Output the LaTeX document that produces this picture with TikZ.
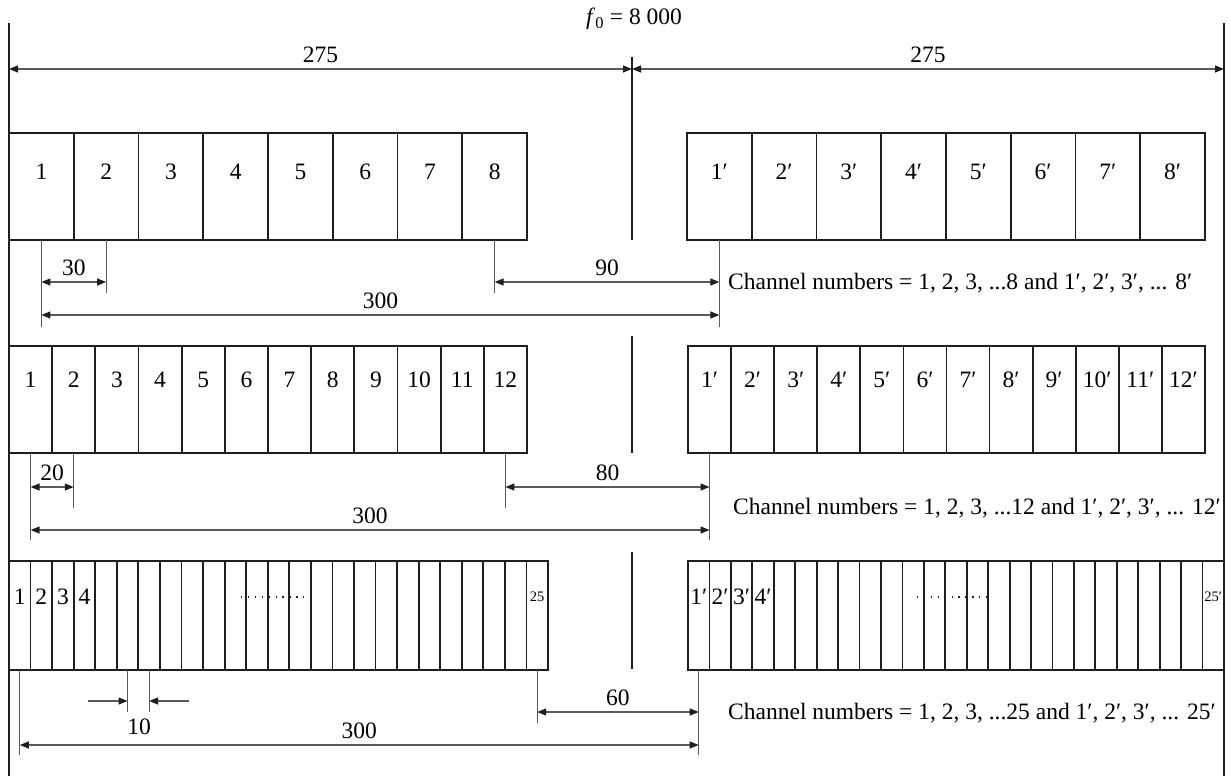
\documentclass[tikz,border=0pt]{standalone}
\usepackage{fontspec}
\setmainfont{Liberation Serif}
\usetikzlibrary{arrows.meta}
\definecolor{inkc}{RGB}{30,30,30}
\definecolor{dimc}{RGB}{90,90,90}

\begin{document}
\begin{tikzpicture}[x=1pt, y=-1pt, line cap=butt,
    font=\fontsize{23.5}{27}\selectfont,
    cell/.style={draw=inkc, line width=1.8pt, inner sep=0pt, outer sep=0pt, anchor=north west},
    lbl/.style={inner sep=0pt},
    small/.style={inner sep=0pt, font=\fontsize{14.5}{16}\selectfont},
    frameline/.style={draw=inkc, line width=1.8pt},
    extline/.style={draw=dimc, line width=1pt},
    dimline/.style={draw=dimc, line width=1.2pt,
      {Triangle[length=9pt,width=7pt,color=inkc]}-{Triangle[length=9pt,width=7pt,color=inkc]}},
    oneway/.style={draw=dimc, line width=1.2pt, -{Triangle[length=9pt,width=7pt,color=inkc]}},
    dimlbl/.style={above=6pt, inner sep=0pt},
    dotline/.style={draw=inkc, line width=1.3pt, dash pattern=on 1.3pt off 5.6pt}]
  \useasboundingbox (0,0) rectangle (1231,776);

  % outer frame lines and the centre frequency line
  \coordinate (lt) at (9,23);    \coordinate (lb) at (9,776);
  \coordinate (rt) at (1224,23); \coordinate (rb) at (1224,776);
  \draw[frameline] (lt) -- (lb);
  \draw[frameline] (rt) -- (rb);
  \coordinate (c1t) at (632,57);  \coordinate (c1b) at (632,240);
  \coordinate (c2t) at (632,336); \coordinate (c2b) at (632,453);
  \coordinate (c3t) at (632,552); \coordinate (c3b) at (632,669);
  \draw[frameline] (c1t) -- (c1b);
  \draw[frameline] (c2t) -- (c2b);
  \draw[frameline] (c3t) -- (c3b);
  \node (f0) at (634,19) {\textit{f}\textsubscript{0} = 8 000};

  % half bandwidths
  \coordinate (lv0) at (0,69);
  \draw[dimline] (lt |- lv0) -- (c1t |- lv0) node[midway, dimlbl] (w1) {275};
  \draw[dimline] (c1t |- lv0) -- (rt |- lv0) node[midway, dimlbl] (w2) {275};

  % ---- 8 channels each side
  \def\cwa{64.75}
  \foreach \i in {1,...,8}{
    \node[cell, minimum width=\cwa pt, minimum height=107pt] (oneL\i) at ({9+(\i-1)*\cwa},133) {};
    \node[lbl] (toneL\i) at ({9+(\i-0.5)*\cwa},172) {\i};
    \node[cell, minimum width=\cwa pt, minimum height=107pt] (oneR\i) at ({687+(\i-1)*\cwa},133) {};
    \node[lbl] (toneR\i) at ({687+(\i-0.5)*\cwa},172) {\i′};
  }
  \coordinate (e1a) at (oneL1.south |- 0,327); \draw[extline] (oneL1.south) -- (e1a);
  \coordinate (e1b) at (oneL2.south |- 0,293); \draw[extline] (oneL2.south) -- (e1b);
  \coordinate (e1c) at (oneL8.south |- 0,293); \draw[extline] (oneL8.south) -- (e1c);
  \coordinate (e1d) at (oneR1.south |- 0,327); \draw[extline] (oneR1.south) -- (e1d);
  \coordinate (lv1) at (0,282);
  \coordinate (lv1s) at (0,315);
  \draw[dimline] (e1a |- lv1) -- (e1b |- lv1) node[midway, dimlbl] (d30) {30};
  \draw[dimline] (e1c |- lv1) -- (e1d |- lv1) node[midway, dimlbl] (d90) {90};
  \draw[dimline] (e1a |- lv1s) -- (e1d |- lv1s) node[midway, dimlbl] (d300a) {300};
  \node[anchor=west, inner sep=0pt] (ch1) at (728,283)
    {Channel numbers = 1, 2, 3, ...8 and 1′, 2′, 3′, ... 8′};

  % ---- 12 channels each side
  \def\cwb{43.17}
  \def\cwc{43.08}
  \foreach \i in {1,...,12}{
    \node[cell, minimum width=\cwb pt, minimum height=107pt] (twoL\i) at ({9+(\i-1)*\cwb},346) {};
    \node[lbl] (ttwoL\i) at ({9+(\i-0.5)*\cwb},380) {\i};
    \node[cell, minimum width=\cwc pt, minimum height=107pt] (twoR\i) at ({688+(\i-1)*\cwc},346) {};
    \node[lbl] (ttwoR\i) at ({688+(\i-0.5)*\cwc},380) {\i′};
  }
  \coordinate (e2a) at (twoL1.south |- 0,540);  \draw[extline] (twoL1.south) -- (e2a);
  \coordinate (e2b) at (twoL2.south |- 0,508);  \draw[extline] (twoL2.south) -- (e2b);
  \coordinate (e2c) at (twoL12.south |- 0,508); \draw[extline] (twoL12.south) -- (e2c);
  \coordinate (e2d) at (twoR1.south |- 0,540);  \draw[extline] (twoR1.south) -- (e2d);
  \coordinate (lv2) at (0,487);
  \coordinate (lv2s) at (0,530);
  \draw[dimline] (e2a |- lv2) -- (e2b |- lv2) node[midway, dimlbl] (d20) {20};
  \draw[dimline] (e2c |- lv2) -- (e2d |- lv2) node[midway, dimlbl] (d80) {80};
  \draw[dimline] (e2a |- lv2s) -- (e2d |- lv2s) node[midway, dimlbl] (d300b) {300};
  \node[anchor=west, inner sep=0pt] (ch2) at (733,508)
    {Channel numbers = 1, 2, 3, ...12 and 1′, 2′, 3′, ... 12′};

  % ---- 25 channels each side
  \def\cwd{21.56}
  \def\cwe{21.44}
  \foreach \i in {1,...,25}{
    \node[cell, minimum width=\cwd pt, minimum height=109pt] (thrL\i) at ({9+(\i-1)*\cwd},561) {};
    \node[cell, minimum width=\cwe pt, minimum height=109pt] (thrR\i) at ({688+(\i-1)*\cwe},561) {};
  }
  \foreach \i in {1,...,4}{
    \node[lbl] (tthrL\i) at ({9+(\i-0.5)*\cwd},597) {\i};
    \node[lbl] (tthrR\i) at ({688+(\i-0.5)*\cwe},597) {\i′};
  }
  \node[small] (tthrL25) at ({9+24.5*\cwd},597) {25};
  \node[small] (tthrR25) at ({688+24.5*\cwe},597) {25′};
  \draw[dotline] (241,597) -- (312,597);
  \draw[dotline] (917,597) -- (988,597);
  \coordinate (e3a) at (thrL1.south |- 0,755);  \draw[extline] (thrL1.south) -- (e3a);
  \coordinate (e3b) at (thrL6.south |- 0,712);  \draw[extline] (thrL6.south) -- (e3b);
  \coordinate (e3c) at (thrL7.south |- 0,712);  \draw[extline] (thrL7.south) -- (e3c);
  \coordinate (e3d) at (thrL25.south |- 0,723); \draw[extline] (thrL25.south) -- (e3d);
  \coordinate (e3e) at (thrR1.south |- 0,755);  \draw[extline] (thrR1.south) -- (e3e);
  \coordinate (lv3) at (0,701);
  \coordinate (lv3m) at (0,712);
  \coordinate (lv3s) at (0,745);
  \coordinate (in1) at (88,701);
  \coordinate (in2) at (189,701);
  \draw[oneway] (in1) -- (e3b |- lv3);
  \draw[oneway] (in2) -- (e3c |- lv3);
  \node[lbl] (d10) at (139,727) {10};
  \draw[dimline] (e3d |- lv3m) -- (e3e |- lv3m) node[midway, dimlbl] (d60) {60};
  \draw[dimline] (e3a |- lv3s) -- (e3e |- lv3s) node[midway, dimlbl] (d300c) {300};
  \node[anchor=west, inner sep=0pt] (ch3) at (728,713)
    {Channel numbers = 1, 2, 3, ...25 and 1′, 2′, 3′, ... 25′};
\end{tikzpicture}
\end{document}
